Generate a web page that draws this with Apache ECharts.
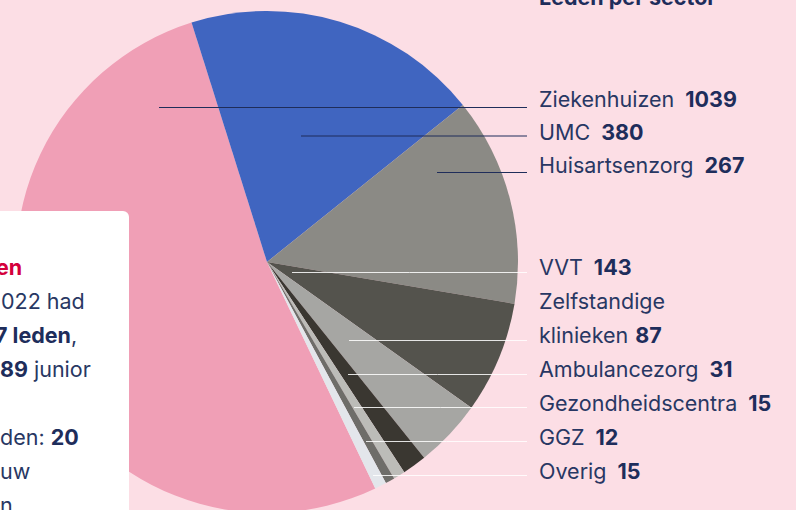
<!DOCTYPE html>
<html><head><meta charset="utf-8">
<script src="https://cdn.jsdelivr.net/npm/echarts@6/dist/echarts.min.js"></script>
<style>html,body{margin:0;padding:0;background:#fcdee5;overflow:hidden}#c{width:796px;height:510px;}</style>
</head><body><div id="c"></div>
<script>
// ---- data ----
const categories = ['Ziekenhuizen','UMC','Huisartsenzorg','VVT','Zelfstandige\nklinieken','Ambulancezorg','Gezondheidscentra','GGZ','Overig'];
const values = [1039, 380, 267, 143, 87, 31, 15, 12, 15];
const chartTitle = 'Leden per sector';
// visible (clipped) fragments of the side panel text
const panelHeading = 'en';
const panelLines = ['{r|022 had}', '{b|7 leden}{r|,}', '{b|89}{r| junior}', '', '{r|den: }{b|20}', '{r|uw}', '{r|n}'];

// ---- styles / layout ----
const colors = ['#f09fb6','#4065c0','#8b8a85','#54534d','#a6a6a3','#3a3731','#bcbcb8','#6e6d69','#e3e6eb'];
const W = 'rgba(255,255,255,0.85)', N = '#1f2d5a';
const lineColors = [N, N, N, W, W, W, W, W, W];
const labelCenterY = [99.3, 131.8, 165.3, 267.3, 318.3, 369.3, 403.3, 437.3, 471.3];
const lineY = [107.5, 136, 172.5, 272.5, 340.5, 374.5, 407.5, 441.5, 475.5];
const lineStartX = [159, 301, 437, 292, 349, 348, 354, 366, 373];
const panelX = [1, -5, 0, 0, 0, 0, 0];
const lineEndX = 527, labelX = 539;
const FONT = 'Inter', FS = 21.5;
const navy = '#283763', navyBold = '#1e2d5b';

const total = values.reduce((a, b) => a + b, 0);
const zAngle = values[0] / total * 360;
const startAngle = 90 + 17.5 + zAngle;

const baseData = categories.map((n, i) => ({ name: n, value: values[i], itemStyle: { color: colors[i] } }));
const overlayData = categories.map((n, i) => ({
  name: n, value: values[i],
  itemStyle: { color: 'rgba(0,0,0,0)' },
  labelLine: { show: true, lineStyle: { color: lineColors[i], width: 1 } }
}));

const chart = echarts.init(document.getElementById('c'), null, { renderer: 'svg' });
const pieCommon = {
  type: 'pie', center: [267, 262], radius: [0, 251], startAngle: startAngle, clockwise: true,
  animation: false, silent: true, avoidLabelOverlap: false, minAngle: 0,
  emphasis: { disabled: true }
};
chart.setOption({
  backgroundColor: '#fcdee5',
  animation: false,
  series: [
    Object.assign({}, pieCommon, {
      z: 2,
      data: baseData,
      itemStyle: { borderWidth: 0 },
      label: { show: false }, labelLine: { show: false }
    }),
    Object.assign({}, pieCommon, {
      z: 5,
      data: overlayData,
      itemStyle: { borderWidth: 0 },
      label: {
        show: true, position: 'outside',
        formatter: p => {
          const vs = p.dataIndex === 4 ? 'v2' : 'v';
          return '{n|' + p.name + '}{' + vs + '|' + p.value + '}';
        },
        rich: {
          n: { fontFamily: FONT, fontSize: FS, color: navy, lineHeight: 34 },
          v: { fontFamily: FONT, fontSize: FS, fontWeight: 'bold', color: navyBold, lineHeight: 34, padding: [0, 0, 0, 11] },
          v2: { fontFamily: FONT, fontSize: FS, fontWeight: 'bold', color: navyBold, lineHeight: 34, padding: [0, 0, 0, 7] }
        }
      },
      labelLine: { show: true, length: 10, length2: 10, smooth: false },
      labelLayout: function (params) {
        const i = params.dataIndex;
        return {
          x: labelX, y: labelCenterY[i], align: 'left', verticalAlign: 'middle',
          labelLinePoints: [[lineStartX[i], lineY[i]], [(lineStartX[i] + lineEndX) / 2, lineY[i]], [lineEndX, lineY[i]]]
        };
      }
    })
  ],
  graphic: [
    { type: 'rect', z: 100, shape: { x: -20, y: 211, width: 149, height: 330, r: 6 }, style: { fill: '#ffffff' } },
    { type: 'text', z: 101, x: -4, y: 267.3, style: { text: panelHeading, fontFamily: FONT, fontSize: FS, fontWeight: 'bold', fill: '#d4003c', verticalAlign: 'middle' } },
    ...panelLines.map((t, k) => ({
      type: 'text', z: 101, x: panelX[k], y: 301.3 + 34 * k,
      style: {
        text: t, verticalAlign: 'middle',
        rich: {
          r: { fontFamily: FONT, fontSize: FS, fill: navy, color: navy },
          b: { fontFamily: FONT, fontSize: FS, fontWeight: 'bold', fill: navyBold, color: navyBold }
        }
      }
    })),
    { type: 'text', z: 101, x: 539, y: -3, style: { text: chartTitle, fontFamily: FONT, fontSize: FS, fontWeight: 'bold', fill: navyBold, verticalAlign: 'middle' } }
  ]
});
</script>
</body></html>
